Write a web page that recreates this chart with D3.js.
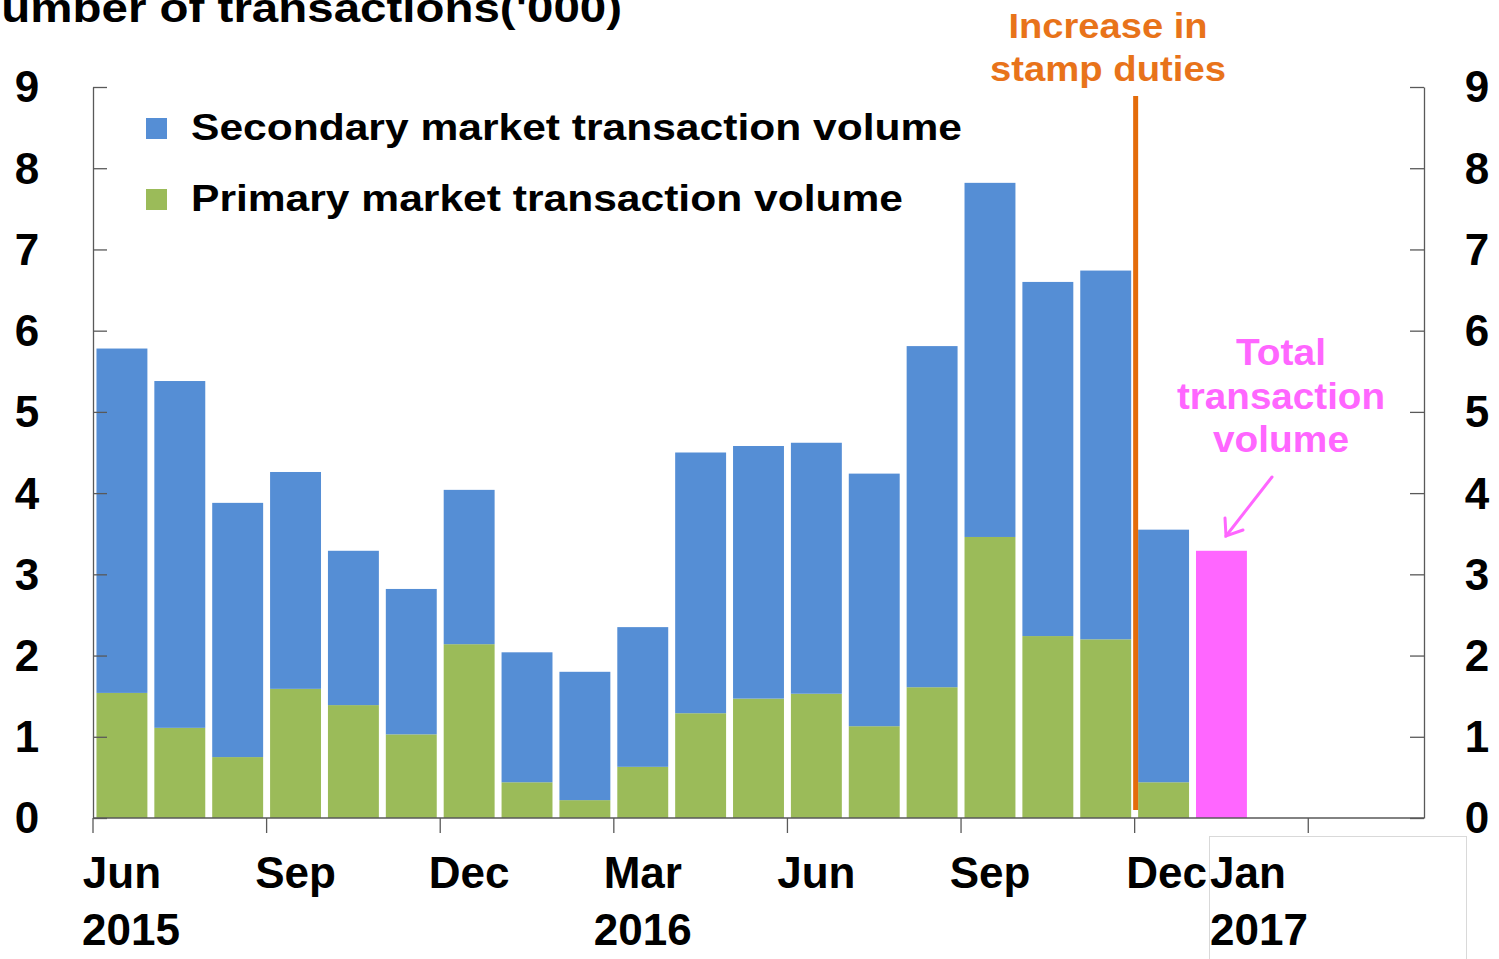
<!DOCTYPE html>
<html>
<head>
<meta charset="utf-8">
<script src="https://cdn.jsdelivr.net/npm/d3@7"></script>
<style>
  body { margin: 0; background: #fff; }
  text { font-family: 'Liberation Sans', Arial, sans-serif; font-weight: bold; }
</style>
</head>
<body>
<div id="graf"></div>
<script>
const anchoTotal = 1499
const altoTotal = 959

// meses (23 posiciones en el eje, Jun 2015 - Abr 2017)
const meses = ['2015-06','2015-07','2015-08','2015-09','2015-10','2015-11','2015-12',
  '2016-01','2016-02','2016-03','2016-04','2016-05','2016-06','2016-07','2016-08',
  '2016-09','2016-10','2016-11','2016-12','2017-01','2017-02','2017-03','2017-04']

// miles de transacciones
const primario = [1.54, 1.11, 0.75, 1.59, 1.39, 1.03, 2.14, 0.44, 0.22, 0.63,
  1.29, 1.47, 1.53, 1.13, 1.61, 3.46, 2.24, 2.20, 0.44]
const secundario = [4.24, 4.27, 3.13, 2.67, 1.90, 1.79, 1.90, 1.60, 1.58, 1.72,
  3.21, 3.11, 3.09, 3.11, 4.20, 4.36, 4.36, 4.54, 3.11]
const totalMes = ['2017-01']
const totalValor = [3.29]

const yTicks = [0, 1, 2, 3, 4, 5, 6, 7, 8, 9]
const etiquetasMes = [
  { mes: '2015-06', txt: 'Jun' }, { mes: '2015-09', txt: 'Sep' },
  { mes: '2015-12', txt: 'Dec' }, { mes: '2016-03', txt: 'Mar' },
  { mes: '2016-06', txt: 'Jun' }, { mes: '2016-09', txt: 'Sep' },
  { mes: '2016-12', txt: 'Dec' }
]
const tickMeses = ['2015-06','2015-09','2015-12','2016-03','2016-06','2016-09','2016-12','2017-03']
const leyenda = ['Secondary market transaction volume', 'Primary market transaction volume']

const colAzul = '#558ED5'
const colVerde = '#9BBB59'
const colRosa = '#FF66FF'
const colNaranja = '#E46C0A'
const colEje = '#595959'

const svg = d3.select('#graf')
  .append('svg')
  .attr('width', anchoTotal)
  .attr('height', altoTotal)

const x0 = 93, x1 = 1424, yBase = 818, yTop = 87

const x = d3.scaleBand()
  .domain(meses)
  .range([x0, x1])
  .paddingInner(0.12)
  .paddingOuter(0.06)

const y = d3.scaleLinear()
  .domain([0, 9])
  .range([yBase, yTop])

// borde izquierdo de cada posicion
const borde = m => x(m) - (x.step() - x.bandwidth()) / 2

const datos = primario.map((p, i) => ({ mes: meses[i], p: p, s: secundario[i] }))

// barras verdes (primario)
svg.append('g').selectAll('rect').data(datos).enter()
  .append('rect')
  .attr('x', d => x(d.mes))
  .attr('width', x.bandwidth())
  .attr('y', d => y(d.p))
  .attr('height', d => y(0) - y(d.p))
  .attr('fill', colVerde)

// barras azules (secundario)
svg.append('g').selectAll('rect').data(datos).enter()
  .append('rect')
  .attr('x', d => x(d.mes))
  .attr('width', x.bandwidth())
  .attr('y', d => y(d.p + d.s))
  .attr('height', d => y(d.p) - y(d.p + d.s))
  .attr('fill', colAzul)

// total enero 2017
svg.append('g').selectAll('rect').data(totalValor).enter()
  .append('rect')
  .attr('x', (d, i) => x(totalMes[i]))
  .attr('width', x.bandwidth())
  .attr('y', d => y(d))
  .attr('height', d => y(0) - y(d))
  .attr('fill', colRosa)

// ejes
const ejeIzq = svg.append('g').attr('transform', `translate(${x0},0)`)
  .call(d3.axisRight(y).tickValues(yTicks).tickSize(14).tickSizeOuter(0).tickFormat(''))
const ejeDer = svg.append('g').attr('transform', `translate(${x1},0)`)
  .call(d3.axisLeft(y).tickValues(yTicks).tickSize(14).tickSizeOuter(0).tickFormat(''))
;[ejeIzq, ejeDer].forEach(e => {
  e.selectAll('path, line').attr('stroke', colEje).attr('stroke-width', 1.3)
})

svg.append('line')
  .attr('x1', x0).attr('x2', x1).attr('y1', yBase).attr('y2', yBase)
  .attr('stroke', colEje).attr('stroke-width', 1.3)
svg.append('g').selectAll('line').data(tickMeses).enter()
  .append('line')
  .attr('x1', d => borde(d)).attr('x2', d => borde(d))
  .attr('y1', yBase).attr('y2', yBase + 15)
  .attr('stroke', colEje).attr('stroke-width', 1.3)

// etiquetas eje y
svg.append('g').selectAll('text').data(yTicks).enter()
  .append('text')
  .attr('x', 27).attr('y', d => y(d)).attr('dy', '0.35em')
  .attr('text-anchor', 'middle').attr('font-size', 44)
  .text(d => d)
svg.append('g').selectAll('text').data(yTicks).enter()
  .append('text')
  .attr('x', 1477).attr('y', d => y(d)).attr('dy', '0.35em')
  .attr('text-anchor', 'middle').attr('font-size', 44)
  .text(d => d)

// etiquetas eje x
svg.append('g').selectAll('text').data(etiquetasMes).enter()
  .append('text')
  .attr('x', d => x(d.mes) + x.bandwidth() / 2 + (d.mes === '2016-12' ? 3 : 0))
  .attr('y', 888)
  .attr('text-anchor', 'middle').attr('font-size', 44)
  .text(d => d.txt)
svg.append('text')
  .attr('x', borde('2015-06') - 11).attr('y', 945)
  .attr('font-size', 44).text('2015')
svg.append('text')
  .attr('x', x('2016-03') + x.bandwidth() / 2).attr('y', 945)
  .attr('text-anchor', 'middle').attr('font-size', 44).text('2016')

// recuadro blanco con Jan 2017
svg.append('rect')
  .attr('x', 1209.5).attr('y', 836.5).attr('width', 257).attr('height', 140)
  .attr('fill', '#fff').attr('stroke', '#d9d9d9').attr('stroke-width', 1)
svg.append('text')
  .attr('x', 1210).attr('y', 888).attr('font-size', 44).text('Jan')
svg.append('text')
  .attr('x', 1210).attr('y', 945).attr('font-size', 44).text('2017')

// titulo (cortado arriba)
svg.append('text')
  .attr('x', -33).attr('y', 22)
  .attr('font-size', 40)
  .attr('textLength', 655).attr('lengthAdjust', 'spacingAndGlyphs')
  .text("Number of transactions('000)")

// leyenda
const colLeyenda = [colAzul, colVerde]
const leg = svg.append('g')
leg.selectAll('rect').data(leyenda).enter()
  .append('rect')
  .attr('x', 146).attr('y', (d, i) => 118 + i * 71)
  .attr('width', 21).attr('height', 21)
  .attr('fill', (d, i) => colLeyenda[i])
leg.selectAll('text').data(leyenda).enter()
  .append('text')
  .attr('x', 191).attr('y', (d, i) => 140 + i * 71)
  .attr('font-size', 37)
  .attr('textLength', (d, i) => [771, 712][i]).attr('lengthAdjust', 'spacingAndGlyphs')
  .text(d => d)

// linea naranja: aumento de impuestos
const xLinea = borde('2016-12') + 1
svg.append('line')
  .attr('x1', xLinea).attr('x2', xLinea).attr('y1', 96).attr('y2', 810)
  .attr('stroke', colNaranja).attr('stroke-width', 5)
svg.append('g').selectAll('text').data(['Increase in', 'stamp duties']).enter()
  .append('text')
  .attr('x', 1108).attr('y', (d, i) => 38 + i * 43)
  .attr('text-anchor', 'middle').attr('font-size', 35)
  .attr('textLength', (d, i) => [199, 236][i]).attr('lengthAdjust', 'spacingAndGlyphs')
  .attr('fill', '#E8731A')
  .text(d => d)

// anotacion rosa
svg.append('g').selectAll('text').data(['Total', 'transaction', 'volume']).enter()
  .append('text')
  .attr('x', 1281).attr('y', (d, i) => 365 + i * 43.5)
  .attr('text-anchor', 'middle').attr('font-size', 37)
  .attr('textLength', (d, i) => [90, 208, 136][i]).attr('lengthAdjust', 'spacingAndGlyphs')
  .attr('fill', colRosa)
  .text(d => d)

const flecha = svg.append('g').attr('stroke', colRosa).attr('stroke-width', 3)
  .attr('fill', 'none').attr('stroke-linecap', 'round')
flecha.append('line').attr('x1', 1272).attr('y1', 477).attr('x2', 1226).attr('y2', 536)
flecha.append('path').attr('d', 'M1225,518 L1226,536 L1243,530')
</script>
</body>
</html>
